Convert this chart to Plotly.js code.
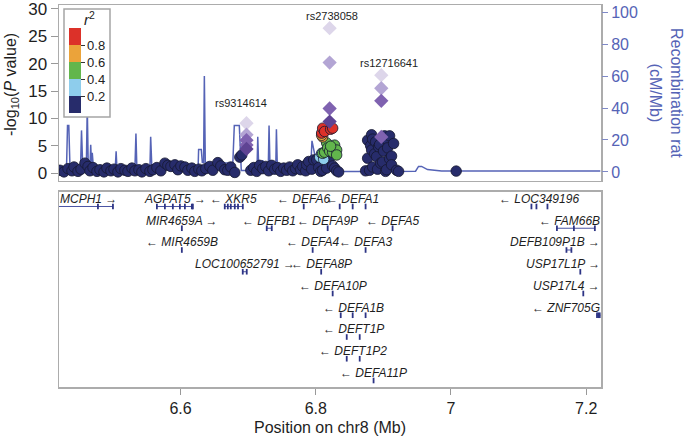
<!DOCTYPE html>
<html><head><meta charset="utf-8">
<script src="https://cdn.plot.ly/plotly-3.0.1.min.js"></script>
<style>html,body{margin:0;padding:0;background:#fff}#chart{width:685px;height:439px}</style>
</head><body><div id="chart"></div>
<script>
// ---------- DATA ----------
// SNP positions (Mb), -log10 P, r2 with index SNP
const snpPos = [6.4217,6.4276,6.4335,6.4394,6.4424,6.4483,6.4527,6.4586,6.4631,6.4660,6.4705,6.4764,6.4808,6.4867,6.4911,6.4970,6.5015,6.5074,6.5118,6.5177,6.5222,6.5281,6.5325,6.5384,6.5428,6.5488,6.5547,6.5591,6.5650,6.5709,6.5768,6.5812,6.5857,6.5916,6.5960,6.6004,6.6064,6.6108,6.6167,6.6211,6.6270,6.6315,6.6374,6.6433,6.6477,6.6551,6.6595,6.6654,6.6699,6.6743,6.6802,6.6876,6.6906,
6.7039,6.7083,6.7127,6.7171,6.7216,6.7260,6.7304,6.7349,6.7393,6.7437,6.7482,6.7526,6.7570,6.7614,6.7659,6.7703,6.7733,6.7777,6.7807,6.7851,6.7866,6.7895,6.7940,6.7969,6.8013,6.8043,6.8072,6.8102,6.8161,6.8205,6.8250,6.8279,6.8309,6.8338,
6.8737,6.8767,6.8767,6.8796,6.8811,6.8826,6.8826,6.8841,6.8841,6.8870,6.8885,6.8900,6.8914,6.8929,6.8944,6.8959,6.8988,6.9003,6.9018,6.9032,6.9047,6.9062,6.9062,6.9092,6.9092,6.9121,6.9121,6.9151,6.9195,6.9225,7.0077,
6.8058,6.8087,6.8117,
6.8102,6.8131,6.8161,6.8176,6.8205,6.8250,6.8279,6.8309,6.8309,6.8220,
6.8102,6.8087,
6.8087,6.8102,6.8131,6.8220,6.8250];
const snpLogP = [0.5,0.2,0.8,0.4,1.1,0.3,0.7,1.8,1.2,0.4,1.0,0.3,0.6,0.2,0.9,0.4,0.7,0.2,0.8,0.5,0.3,0.9,0.4,0.6,0.2,0.8,0.3,0.6,1.0,0.4,1.8,1.4,1.2,1.5,0.6,1.3,1.1,0.5,0.9,0.3,0.7,0.4,0.8,1.2,0.5,1.9,1.3,0.6,0.5,1.1,0.1,2.9,3.3,
0.5,1.0,0.3,1.4,0.8,1.2,0.4,1.4,0.7,1.0,0.3,0.9,0.5,1.1,0.4,0.8,1.5,0.6,1.2,0.4,1.5,2.1,0.7,2.4,2.4,1.0,0.3,0.5,0.9,2.7,1.3,0.9,0.4,0.2,
0.4,2.7,6.0,0.5,5.0,4.2,7.0,6.2,1.1,3.5,5.7,3.0,0.7,4.8,5.2,1.8,2.0,4.0,6.8,0.3,0.6,6.0,4.6,2.6,6.8,3.1,1.5,5.4,0.5,0.3,0.35,
2.9,3.6,2.5,
3.6,3.8,5.5,4.6,4.0,3.8,5.1,4.2,3.3,4.9,
6.6,6.9,
7.3,8.2,7.6,8.0,8.2];
const snpR2 = [].concat(
  new Array(53).fill(0.1), new Array(34).fill(0.1), new Array(31).fill(0.1),
  [0.3,0.3,0.3],
  [0.5,0.5,0.5,0.5,0.5,0.5,0.5,0.5,0.5,0.5],
  [0.7,0.7],
  [0.9,0.9,0.9,0.9,0.9]);

// Index / conditional SNPs (diamonds)
const leadNames = ["rs9314614","rs2738058","rs12716641"];
const diaPos   = [6.6975,6.6975,6.6975,6.6975,6.6975, 6.8205,6.8205,6.8205,6.8205, 6.8969,6.8969,6.8969,6.8969];
const diaLogP  = [9.1,7.0,6.0,5.1,4.4, 26.5,20.2,11.8,9.4, 17.9,15.5,13.2,6.6];
const diaShade = [0,1,2,2,3, 0,1,2,3, 0,1,2,2];
const diaLead  = [0,0,0,0,0, 1,1,1,1, 2,2,2,2];

// Recombination rate (cM/Mb)
const recPos = [6.4202,6.4261,6.4313,6.4328,6.4347,6.4365,6.4453,6.4520,6.4535,6.4554,6.4606,6.4620,6.4635,6.4660,6.4671,6.4683,6.4694,6.4712,6.4808,6.4956,6.5034,6.5047,6.5059,6.5177,6.5325,6.5340,6.5354,6.5473,6.5547,6.5558,6.5576,6.5694,6.5916,6.6137,6.6260,6.6267,6.6307,6.6322,6.6341,6.6352,6.6366,6.6507,6.6654,6.6773,6.6795,6.6869,6.6898,6.7024,6.7131,6.7142,6.7157,6.7201,6.7216,6.7231,6.7297,6.7309,6.7324,6.7408,6.7418,6.7432,6.7614,6.7836,6.7925,6.7944,6.7984,6.8013,6.8043,6.8205,6.8324,6.8944,6.9476,6.9520,6.9565,6.9653,6.9860,7.2209];
const recRate = [3,2.5,2,29,29,2,1.5,2,26,2,2.5,41,3,3,17,4,12,2,1.5,2,2,13,2,1.5,2,24,2,1.5,2,22,2,2,3,2.5,3,14,14,6,6,60,6,6,5.5,5.5,29,29,1,1,1.5,22,1.5,1.5,7.5,1.5,1.5,29,1.5,2,26.7,2,2.5,2.5,2.5,19.5,10,5,1.5,1,0.3,0.3,0.5,3.5,3.5,1.5,0.6,0.6];

// Genes
const geneNames  = ["MCPH1","AGPAT5","XKR5","DEFA6","DEFA1","LOC349196",
  "MIR4659A","DEFB1","DEFA9P","DEFA5","FAM66B",
  "MIR4659B","DEFA4","DEFA3","DEFB109P1B",
  "LOC100652791","DEFA8P","USP17L1P",
  "DEFA10P","USP17L4",
  "DEFA1B","ZNF705G",
  "DEFT1P","DEFT1P2","DEFA11P"];
const geneStrand = ["+","+","-","-","-","-", "+","-","-","-","-", "-","-","-","+", "+","-","+", "-","+", "-","-", "-","-","-"];
const geneRow    = [1,1,1,1,1,1, 2,2,2,2,2, 3,3,3,3, 4,4,4, 5,5, 6,6, 7,8,9];
const geneLoci = [
  [[6.4202,6.5000]], [[6.5650,6.6182]], [[6.6654,6.6921]], [[6.7820,6.7824]],
  [[6.8352,6.8356],[6.8544,6.8548],[6.8735,6.8739]],
  [[7.1188,7.1192],[7.1262,7.1266],[7.1425,7.1429]],
  [[6.6017,6.6021]], [[6.7275,6.7349]], [[6.8174,6.8178]], [[6.9134,6.9138]], [[7.1567,7.2128]],
  [[6.6017,6.6021]], [[6.7952,6.7956]], [[6.8735,6.8739]], [[7.1708,7.1781]],
  [[6.6920,6.6979]], [[6.8078,6.8082]], [[7.1911,7.1915]],
  [[6.8248,6.8252]], [[7.1955,7.1959]],
  [[6.8367,6.8371],[6.8544,6.8548],[6.8735,6.8739]], [[7.2149,7.2210]],
  [[6.8456,6.8460],[6.8648,6.8652]], [[6.8456,6.8460],[6.8648,6.8652]], [[6.8853,6.8857]]];
const geneExons = [
  [6.4778,6.5000], [6.5650,6.5768,6.5886,6.5990,6.6064,6.6167,6.6182], [6.6654,6.6699,6.6743,6.6802,6.6850,6.6921], [6.7822],
  [6.8354,6.8546,6.8737], [7.1190,7.1264,7.1427],
  [6.6019], [6.7275,6.7349], [6.8176], [6.9136], [7.1567,7.1818,7.2128],
  [6.6019], [6.7954], [6.8737], [7.1708,7.1781],
  [6.6920,6.6979], [6.8080], [7.1913],
  [6.8250], [7.1957],
  [6.8369,6.8546,6.8737], [7.2160,7.2180,7.2200],
  [6.8458,6.8650], [6.8458,6.8650], [6.8855]];

// Axis ticks
const pTicks = [0,5,10,15,20,25,30];
const recTicks = [0,20,40,60,80,100];
const xTickVals = [6.6,6.8,7,7.2];
const xTickText = ["6.6","6.8","7","7.2"];
const r2Ticks = [0.2,0.4,0.6,0.8];

// ---------- STYLE ----------
const FONT = "Liberation Sans, Arial, Helvetica, sans-serif";
const XR = [6.4202, 7.2219];
const BLUE = "#5563b6";
const shadeColors = ["#ddd6ea","#b3a5d4","#7f62b0","#5e4393"];
const r2Scale = [[0,"#272c6b"],[0.2,"#272c6b"],[0.2,"#8ecdec"],[0.4,"#8ecdec"],[0.4,"#62b64c"],[0.6,"#62b64c"],[0.6,"#eba33a"],[0.8,"#eba33a"],[0.8,"#dc3129"],[1,"#dc3129"]];

// pixel helpers (plot area 59..601 x, 5..387 y)
const plotL = 59, plotW = 542, plotB = 387, plotH = 382;
const px2paperX = p => (p - plotL)/plotW;
const px2paperY = p => (plotB - p)/plotH;

const traces = [];
traces.push({x: recPos, y: recRate, xaxis:"x", yaxis:"y", type:"scatter", mode:"lines",
  line:{color:BLUE, width:1.5}, hoverinfo:"skip", showlegend:false});
traces.push({x: snpPos, y: snpLogP, xaxis:"x", yaxis:"y2", type:"scatter", mode:"markers",
  marker:{size:10.5, color: snpR2, cmin:0, cmax:1, colorscale:r2Scale,
    line:{color:"#151830", width:0.8},
    showscale:true,
    colorbar:{x:px2paperX(64), xanchor:"left", y:px2paperY(28), yanchor:"top", lenmode:"pixels", len:85,
      thickness:12, thicknessmode:"pixels", xpad:5, ypad:0,
      bgcolor:"rgba(0,0,0,0)", borderwidth:0, outlinewidth:0,
      tickvals:r2Ticks, ticks:"outside", ticklen:4, tickcolor:"#333",
      tickfont:{family:FONT, size:13, color:"#222"}}},
  hoverinfo:"skip", showlegend:false});
traces.push({x: diaPos, y: diaLogP, xaxis:"x", yaxis:"y2", type:"scatter", mode:"markers",
  marker:{symbol:"diamond", size:11, color: diaShade.map(s=>shadeColors[s]), line:{width:0}},
  hoverinfo:"skip", showlegend:false});

const bx=[], by=[];
geneLoci.forEach((loci,i)=>{ loci.forEach(l=>{ bx.push(l[0],l[1],null); by.push(geneRow[i],geneRow[i],null); }); });
traces.push({x:bx, y:by, xaxis:"x2", yaxis:"y3", type:"scatter", mode:"lines",
  line:{color:"#4a53a3", width:1}, hoverinfo:"skip", showlegend:false});
const ex=[], ey=[];
geneExons.forEach((e,i)=>{ e.forEach(p=>{ ex.push(p); ey.push(geneRow[i]); }); });
traces.push({x:ex, y:ey, xaxis:"x2", yaxis:"y3", type:"scatter", mode:"markers",
  marker:{symbol:"line-ns", size:4, line:{color:"#2d3485", width:1.8}}, hoverinfo:"skip", showlegend:false});

// ---------- ANNOTATIONS ----------
const ann = [];
const GF = 12;
const ctx = document.createElement("canvas").getContext("2d");
ctx.font = "italic " + GF + "px 'Liberation Sans'";
const toPx = v => plotL + (v - XR[0])/(XR[1]-XR[0])*plotW;
const toX = p => XR[0] + (p - plotL)/plotW*(XR[1]-XR[0]);
geneNames.forEach((n,i)=>{
  const txt = geneStrand[i]==="+" ? n+" \u2192" : "\u2190 "+n;
  const loci = geneLoci[i];
  const mid = (loci[0][0] + loci[loci.length-1][1])/2;
  const w = ctx.measureText(txt).width;
  let c = toPx(mid);
  if (c + w/2 > plotL+plotW-1) c = plotL+plotW-1-w/2;
  if (c - w/2 < plotL+1) c = plotL+1+w/2;
  ann.push({x:toX(c), y:geneRow[i], xref:"x2", yref:"y3", text:"<i>"+txt+"</i>", showarrow:false,
    xanchor:"center", yanchor:"middle", yshift:7.5, font:{family:FONT, size:GF, color:"#1e1e1e"}});
});
const leadShift = [[-5,20],[2,12],[8,12]];
leadNames.forEach((n,k)=>{
  const idx = diaLead.indexOf(k);
  ann.push({x:diaPos[idx], y:diaLogP[idx], xref:"x", yref:"y2", text:n, showarrow:false,
    xanchor:"center", yanchor:"middle", xshift:leadShift[k][0], yshift:leadShift[k][1],
    font:{family:FONT, size:11, color:"#1e1e1e"}});
});
ann.push({x:px2paperX(82), y:px2paperY(19), xref:"paper", yref:"paper", xanchor:"left", yanchor:"middle", showarrow:false,
  text:"<i>r</i><sup>2</sup>", font:{family:FONT, size:15, color:"#1e1e1e"}});
ann.push({x:-0.0886, y:0.793, xref:"paper", yref:"paper", xanchor:"center", yanchor:"middle", textangle:-90, showarrow:false,
  text:"-log<sub>10</sub>(<i>P</i> value)", font:{family:FONT, size:16, color:"#1e1e1e"}});
ann.push({x:1.12, y:0.7696, xref:"paper", yref:"paper", xanchor:"center", yanchor:"middle", textangle:90, showarrow:false,
  text:"Recombination rat<br>(cM/Mb)", font:{family:FONT, size:16, color:BLUE}});
ann.push({x:0.5, y:-0.1073, xref:"paper", yref:"paper", xanchor:"center", yanchor:"middle", showarrow:false,
  text:"Position on chr8 (Mb)", font:{family:FONT, size:16, color:"#1e1e1e"}});

const frame = "#acacac";
const layout = {
  width:685, height:439, margin:{l:59, r:84, t:5, b:52},
  paper_bgcolor:"#fff", plot_bgcolor:"#fff", showlegend:false,
  font:{family:FONT},
  xaxis:{domain:[0,1], anchor:"y", range:XR, showticklabels:false, ticks:"", showgrid:false, zeroline:false,
    showline:true, mirror:true, linecolor:frame, linewidth:1.5},
  yaxis:{domain:[0.5393,1], anchor:"x", side:"right", range:[-5.63,104.4], tickvals:recTicks,
    ticks:"outside", ticklen:6, tickcolor:"#7f89c6", tickfont:{family:FONT, size:16, color:BLUE},
    ticklabeloverflow:"allow", showgrid:false, zeroline:false, showline:false},
  yaxis2:{overlaying:"y", anchor:"x", side:"left", range:[-1.46,30.73], tickvals:pTicks,
    ticks:"outside", ticklen:7, tickcolor:"#999", tickfont:{family:FONT, size:17, color:"#1e1e1e"},
    ticklabeloverflow:"allow", showgrid:false, zeroline:false, showline:true, mirror:true, linecolor:frame, linewidth:1.5},
  xaxis2:{domain:[0,1], anchor:"y3", range:XR, tickvals:xTickVals, ticktext:xTickText,
    ticks:"outside", ticklen:6, tickcolor:"#999", tickfont:{family:FONT, size:16, color:"#1e1e1e"},
    showgrid:false, zeroline:false, showline:true, mirror:true, linecolor:frame, linewidth:1.5},
  yaxis3:{domain:[0,0.5105], anchor:"x2", range:[9.299,0.333], showticklabels:false, ticks:"",
    showgrid:false, zeroline:false, showline:true, mirror:true, linecolor:frame, linewidth:1.5},
  shapes:[{type:"rect", xref:"paper", yref:"paper", layer:"above",
    x0:px2paperX(64), x1:px2paperX(110), y0:px2paperY(117), y1:px2paperY(9),
    fillcolor:"#ffffff", line:{color:"#a5a5a5", width:1.5}}],
  annotations: ann
};
Plotly.newPlot("chart", traces, layout, {staticPlot:true, displayModeBar:false});
</script></body></html>
